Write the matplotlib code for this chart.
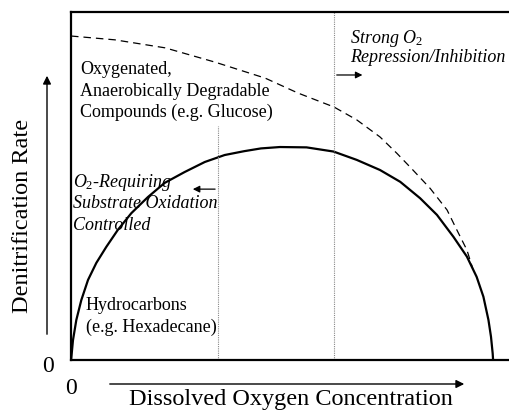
import matplotlib
matplotlib.use("Agg")
import matplotlib.pyplot as plt
import matplotlib.transforms as mtransforms

plt.rcParams['font.family'] = ['Liberation Serif', 'DejaVu Serif']
plt.rcParams['mathtext.fontset'] = 'custom'
plt.rcParams['mathtext.rm'] = 'Liberation Serif'
plt.rcParams['mathtext.it'] = 'Liberation Serif:italic'

# Hydrocarbons (solid) curve: dissolved O2 (relative) vs denitrification rate (relative)
solid_x = [0.0, 0.0007, 0.0047, 0.0126, 0.0244, 0.0403, 0.060, 0.0836, 0.111, 0.143,
           0.182, 0.222, 0.269, 0.317, 0.364, 0.41, 0.45, 0.495, 0.558, 0.622,
           0.677, 0.732, 0.780, 0.827, 0.867, 0.906, 0.938, 0.961, 0.977, 0.989,
           0.995, 0.999, 1.0]
solid_y = [0.0, 0.006, 0.057, 0.115, 0.172, 0.230, 0.279, 0.325, 0.374, 0.422,
           0.468, 0.509, 0.540, 0.569, 0.589, 0.600, 0.608, 0.612, 0.611, 0.599,
           0.575, 0.546, 0.512, 0.465, 0.417, 0.354, 0.297, 0.239, 0.182, 0.115,
           0.067, 0.019, 0.0]

# Oxygenated, anaerobically degradable compounds (dashed) curve
dash_x = [0.0, 0.104, 0.223, 0.341, 0.460, 0.538, 0.623, 0.677, 0.732, 0.772,
          0.810, 0.851, 0.891, 0.914, 0.938, 0.952]
dash_y = [0.931, 0.920, 0.897, 0.856, 0.810, 0.767, 0.727, 0.690, 0.641, 0.594,
          0.546, 0.493, 0.431, 0.374, 0.316, 0.262]

boundary_low = 0.348
boundary_low_top = 0.672
boundary_high = 0.623

W, H = 510, 412
fig = plt.figure(figsize=(W / 100, H / 100), dpi=100)
ax = fig.add_axes([71 / W, 52 / H, 1 - 71 / W + 0.01, 348 / H])
ax.set_xlim(0, (W + 5 - 71) / 422)
ax.set_ylim(0, 1)

for s in ['left', 'bottom', 'top']:
    ax.spines[s].set_linewidth(1.6)
ax.spines['right'].set_visible(False)

ax.plot(solid_x, solid_y, color='black', lw=1.6, solid_joinstyle='round')
ax.plot(dash_x, dash_y, color='black', lw=0.9, dashes=(6, 4))

ax.plot([boundary_low, boundary_low], [0, boundary_low_top], color='#888888', lw=0.8, ls=(0, (1, 1)))
ax.plot([boundary_high, boundary_high], [0, 1], color='#888888', lw=0.8, ls=(0, (1, 1)))

ax.annotate('', xy=(0.282, 0.491), xytext=(boundary_low, 0.491),
            arrowprops=dict(arrowstyle='-|>', color='black', lw=0.9, mutation_scale=10))
ax.annotate('', xy=(0.697, 0.819), xytext=(boundary_high, 0.819),
            arrowprops=dict(arrowstyle='-|>', color='black', lw=0.9, mutation_scale=10))

fs = 13
ax.text(0.021, 0.822, 'Oxygenated,', fontsize=fs, va='baseline')
ax.text(0.021, 0.759, 'Anaerobically Degradable', fontsize=fs, va='baseline')
ax.text(0.021, 0.698, 'Compounds (e.g. Glucose)', fontsize=fs, va='baseline')

ax.text(0.005, 0.497, '$O_2$-Requiring', fontsize=fs, style='italic', va='baseline')
ax.text(0.005, 0.437, 'Substrate Oxidation', fontsize=fs, style='italic', va='baseline')
ax.text(0.005, 0.374, 'Controlled', fontsize=fs, style='italic', va='baseline')

ax.text(0.0355, 0.144, 'Hydrocarbons', fontsize=fs, va='baseline')
ax.text(0.0355, 0.080, '(e.g. Hexadecane)', fontsize=fs, va='baseline')

ax.text(0.661, 0.911, 'Strong $O_2$', fontsize=fs, style='italic', va='baseline')
ax.text(0.661, 0.856, 'Repression/Inhibition', fontsize=fs, style='italic', va='baseline')

ax.set_xticks([0])
ax.set_xticklabels(['0'], fontsize=17)
ax.set_yticks([0])
ax.set_yticklabels(['0'], fontsize=17)
ax.tick_params(axis='x', length=0, pad=13)
ax.tick_params(axis='y', length=0, pad=12)
for lab in ax.get_yticklabels():
    lab.set_transform(lab.get_transform() + mtransforms.ScaledTranslation(0, -3 / 72, fig.dpi_scale_trans))

fig.text(291 / W, 1 - 405 / H, 'Dissolved Oxygen Concentration', fontsize=17.5, ha='center', va='baseline')
fig.text(23 / W, 1 - 216 / H, 'Denitrification Rate', fontsize=17.5, ha='center', va='center', rotation=90)

ax.annotate('', xy=(467 / W, 1 - 384 / H), xytext=(107 / W, 1 - 384 / H),
            xycoords='figure fraction', textcoords='figure fraction', annotation_clip=False,
            arrowprops=dict(arrowstyle='-|>', color='black', lw=1.0, mutation_scale=12))
ax.annotate('', xy=(47 / W, 1 - 73 / H), xytext=(47 / W, 1 - 337 / H),
            xycoords='figure fraction', textcoords='figure fraction', annotation_clip=False,
            arrowprops=dict(arrowstyle='-|>', color='black', lw=1.0, mutation_scale=12))

fig.savefig('out.png', dpi=100)
